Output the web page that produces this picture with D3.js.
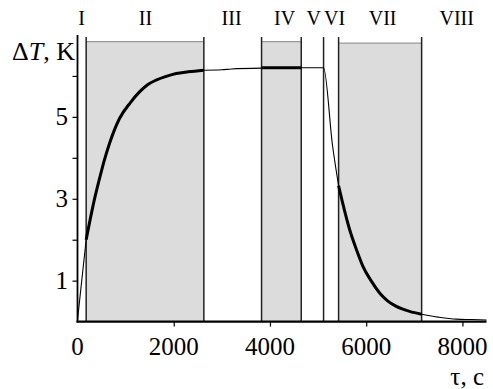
<!DOCTYPE html>
<html>
<head>
<meta charset="utf-8">
<script src="https://cdn.jsdelivr.net/npm/d3@7"></script>
<style>
  body { margin: 0; background: #fff; }
</style>
</head>
<body>
<div id="svgWrapper"></div>
<script>
// phase names and where they sit (tau, s)
var phaseNames = ["I", "II", "III", "IV", "V", "VI", "VII", "VIII"];
var phaseLabelTau = [83, 1414, 3202, 4304, 4907, 5344, 6342, 7880];
// boundaries between phases
var boundaries = [180, 2626, 3825, 4650, 5114, 5426, 7152];
// shaded phases [start, end, top]
var shadedStart = [180, 3825, 5426];
var shadedEnd = [2626, 4650, 7152];
var shadedTop = [6.84, 6.84, 6.80];

// measured curve, piece by piece (thick = active phase)
var curveI = [[0, 0.04], [180, 2.0]];
var curveII = [[180, 2.0], [353, 2.99], [492, 3.65], [548, 3.9], [665, 4.35], [873, 4.96], [1100, 5.35],
  [1289, 5.61], [1450, 5.78], [1636, 5.90], [1844, 5.99], [2052, 6.06], [2300, 6.10], [2626, 6.14]];
var curveIII = [[2626, 6.14], [3000, 6.15], [3200, 6.17], [3825, 6.19]];
var curveIV = [[3825, 6.2], [4650, 6.2]];
var curveV = [[4650, 6.2], [5114, 6.2], [5300, 4.3], [5426, 3.32]];
var curveVII = [[5426, 3.32], [5500, 2.95], [5655, 2.25], [5800, 1.75], [5932, 1.35], [6100, 1.0],
  [6279, 0.70], [6450, 0.50], [6626, 0.37], [6900, 0.25], [7152, 0.18]];
var curveVIII = [[7152, 0.18], [7500, 0.11], [7873, 0.06], [8200, 0.05], [8500, 0.04]];

var xTicks = [0, 2000, 4000, 6000, 8000];
var yLabelTicks = [1, 3, 5];
var yMinorTicks = [1, 2, 3, 4, 5, 6];

var widthX = 493;
var widthY = 389;
var serif = "'Liberation Serif', 'Times New Roman', Times, serif";

var x = d3.scaleLinear().domain([0, 8500]).range([77.5, 486.5]);
var y = d3.scaleLinear().domain([0, 7]).range([321.6, 35]);

var svg = d3.select("#svgWrapper").append("svg")
  .attr("width", widthX)
  .attr("height", widthY)
  .attr("font-family", serif);

// grey bands
svg.append("g").selectAll("rect")
  .data(shadedStart)
  .enter()
  .append("rect")
  .attr("x", function (d) { return x(d); })
  .attr("y", function (d, i) { return y(shadedTop[i]); })
  .attr("width", function (d, i) { return x(shadedEnd[i]) - x(d); })
  .attr("height", function (d, i) { return y(0) - y(shadedTop[i]); })
  .style("fill", "#dcdcdc");

svg.append("g").selectAll("line")
  .data(shadedStart)
  .enter()
  .append("line")
  .attr("x1", function (d) { return x(d); })
  .attr("x2", function (d, i) { return x(shadedEnd[i]); })
  .attr("y1", function (d, i) { return y(shadedTop[i]); })
  .attr("y2", function (d, i) { return y(shadedTop[i]); })
  .attr("stroke", "#999")
  .attr("stroke-width", 1.2);

// phase boundaries
svg.append("g").selectAll("line")
  .data(boundaries)
  .enter()
  .append("line")
  .attr("x1", function (d) { return x(d); })
  .attr("x2", function (d) { return x(d); })
  .attr("y1", y(6.95))
  .attr("y2", y(0))
  .attr("stroke", "#222")
  .attr("stroke-width", 1.5);

// curve
var line = d3.line()
  .x(function (d) { return x(d[0]); })
  .y(function (d) { return y(d[1]); })
  .curve(d3.curveMonotoneX);

var thin = [curveI, curveIII, curveV, curveVIII];
var thick = [curveII, curveIV, curveVII];

svg.append("g").selectAll("path")
  .data(thin)
  .enter()
  .append("path")
  .attr("d", line)
  .attr("fill", "none")
  .attr("stroke", "#000")
  .attr("stroke-width", 1.1);

svg.append("g").selectAll("path")
  .data(thick)
  .enter()
  .append("path")
  .attr("d", line)
  .attr("fill", "none")
  .attr("stroke", "#000")
  .attr("stroke-width", 3);

// axes
var xAxis = svg.append("g")
  .attr("transform", "translate(0," + y(0) + ")")
  .call(d3.axisBottom(x).tickValues(xTicks.slice(1)).tickSize(5).tickFormat(""));
xAxis.select(".domain").remove();
xAxis.selectAll(".tick line").attr("stroke", "#000").attr("stroke-width", 1.2);

var yAxis = svg.append("g")
  .attr("transform", "translate(" + x(0) + ",0)")
  .call(d3.axisLeft(y).tickValues(yMinorTicks).tickSize(5).tickFormat(""));
yAxis.select(".domain").remove();
yAxis.selectAll(".tick line").attr("stroke", "#000").attr("stroke-width", 1.2);

svg.append("line")
  .attr("x1", x(0)).attr("x2", x(0))
  .attr("y1", y(7)).attr("y2", y(0) + 1)
  .attr("stroke", "#000").attr("stroke-width", 1.8);

svg.append("line")
  .attr("x1", x(0) - 1).attr("x2", x(8500))
  .attr("y1", y(0)).attr("y2", y(0))
  .attr("stroke", "#000").attr("stroke-width", 2.2);

// tick labels
svg.append("g").selectAll("text")
  .data(xTicks)
  .enter()
  .append("text")
  .attr("x", function (d) { return x(d); })
  .attr("y", 355)
  .attr("text-anchor", "middle")
  .attr("font-family", serif)
  .attr("font-size", 25)
  .text(function (d) { return d; });

svg.append("g").selectAll("text")
  .data(yLabelTicks)
  .enter()
  .append("text")
  .attr("x", 68)
  .attr("y", function (d) { return y(d); })
  .attr("dy", ".34em")
  .attr("text-anchor", "end")
  .attr("font-family", serif)
  .attr("font-size", 25)
  .text(function (d) { return d; });

// phase names
svg.append("g").selectAll("text")
  .data(phaseNames)
  .enter()
  .append("text")
  .attr("x", function (d, i) { return x(phaseLabelTau[i]); })
  .attr("y", 25)
  .attr("text-anchor", "middle")
  .attr("font-family", serif)
  .attr("font-size", 20)
  .text(function (d) { return d; });

// axis titles
var yTitle = svg.append("text")
  .attr("x", 75)
  .attr("y", 60)
  .attr("text-anchor", "end")
  .attr("font-family", serif)
  .attr("font-size", 26);
yTitle.append("tspan").text("\u0394");
yTitle.append("tspan").attr("font-style", "italic").text("T");
yTitle.append("tspan").text(", K");

svg.append("text")
  .attr("x", 484)
  .attr("y", 385)
  .attr("text-anchor", "end")
  .attr("font-family", serif)
  .attr("font-size", 25)
  .text("\u03c4, c");
</script>
</body>
</html>
